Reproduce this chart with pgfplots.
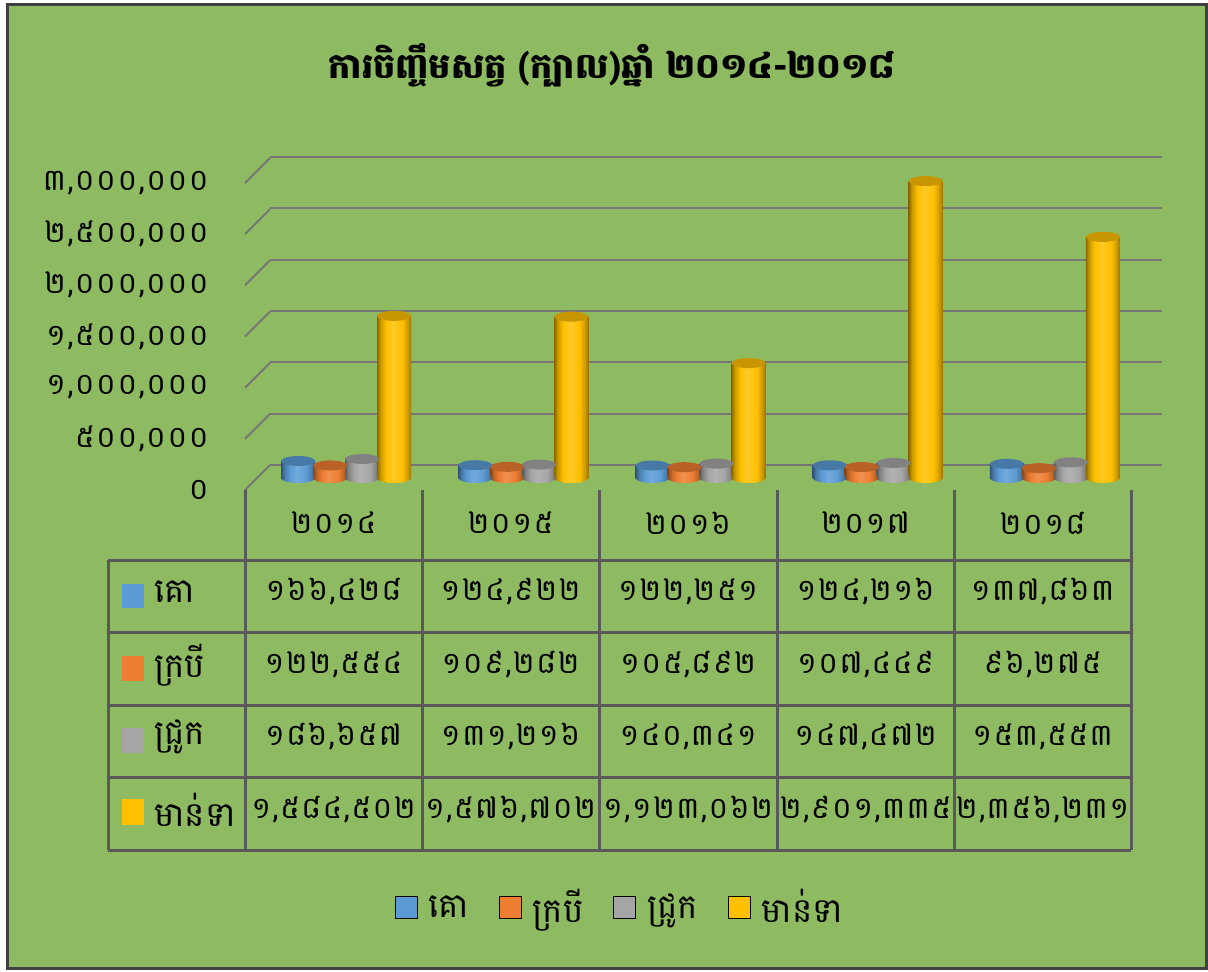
\documentclass[border=0pt]{standalone}
\usepackage{fontspec}
\setmainfont[Script=Khmer]{Battambang}
\newfontfamily\numfont[Script=Khmer, LetterSpace=5]{Battambang}
\usepackage{pgfplots}
\pgfplotsset{compat=1.18}
\usepackage{pgfplotstable}
\usetikzlibrary{shapes.geometric}

\definecolor{bg}{RGB}{142,187,98}
\definecolor{frame}{RGB}{64,64,64}
\definecolor{gridc}{RGB}{118,118,118}
\definecolor{tline}{RGB}{89,89,89}
\definecolor{cB}{HTML}{5B9BD5}
\definecolor{cO}{HTML}{ED7D31}
\definecolor{cG}{HTML}{A5A5A5}
\definecolor{cY}{HTML}{FFC000}

\newcommand\cylshade[2]{\pgfdeclarehorizontalshading{#1}{100bp}{color(0bp)=(#2!55!black); color(25bp)=(#2!55!black); color(30bp)=(#2!80!black); color(38bp)=(#2); color(48bp)=(#2!85!white); color(62bp)=(#2); color(70bp)=(#2!80!black); color(75bp)=(#2!60!black); color(100bp)=(#2!60!black)}}
\cylshade{cylB}{cB}
\cylshade{cylO}{cO}
\cylshade{cylG}{cG}
\cylshade{cylY}{cY}

\pgfplotstableread{
x cow buffalo pig poultry
0 166428 122554 186657 1584502
1 124922 109282 131216 1576702
2 122251 105892 140341 1123062
3 124216 107499 147472 2901335
4 137863 96275 153553 2356231
}\data

\pgfplotsset{
  cap/.style n args={2}{bar shift=#2, draw=none, fill=none, forget plot, nodes near coords={},
    every node near coord/.style={ellipse, anchor=center, xshift=#2, minimum width=17pt,
      minimum height=5pt, inner sep=0pt, #1}},
}

\newcommand\cylinder[4]{% column, shift, shading, colour
  \addplot[cap={shading=#3}{#2}] coordinates {(0,0)(1,0)(2,0)(3,0)(4,0)};
  \pgfplotsinvokeforeach{0,1,2,3,4}{%
    \addplot[bar shift=#2, draw=none, shading=#3, forget plot, restrict x to domain=##1:##1] table[x=x,y=#1]{\data};
  }
  \addplot[cap={fill=#4!78!black}{#2}] table[x=x,y=#1]{\data};
}

\begin{document}
\begin{tikzpicture}[x=0.5pt,y=-0.5pt]
\fill[white] (0,0) rectangle (1208,972);
\draw[frame, line width=1.5pt, fill=bg] (7.5,5) rectangle (1206,968.5);

% back plane gridlines
\begin{axis}[at={(135pt,-232.5pt)}, anchor=south west, scale only axis,
  width=446pt, height=154pt, xmin=-0.5, xmax=4.5, ymin=0, ymax=3000000,
  axis line style={draw=none}, xtick=\empty, scaled y ticks=false,
  ytick={0,500000,1000000,1500000,2000000,2500000,3000000}, yticklabels={},
  major tick length=0pt, ymajorgrids, major grid style={gridc, line width=1pt}]
\end{axis}

% front plane: tick labels and diagonals
\begin{axis}[at={(122.5pt,-245pt)}, anchor=south west, scale only axis,
  width=443pt, height=153.5pt, xmin=-0.5, xmax=4.5, ymin=0, ymax=3000000,
  axis line style={draw=none}, xtick=\empty, scaled y ticks=false, clip=false,
  ytick={0,500000,1000000,1500000,2000000,2500000,3000000},
  yticklabels={០,{៥០០,០០០},{១,០០០,០០០},{១,៥០០,០០០},{២,០០០,០០០},{២,៥០០,០០០},{៣,០០០,០០០}},
  major tick length=0pt,
  yticklabel style={anchor=east, inner sep=0pt, xshift=-18pt, font=\numfont\fontsize{15}{17}\selectfont}]
\pgfplotsinvokeforeach{0,500000,1000000,1500000,2000000,2500000,3000000}{
  \draw[gridc, line width=1pt] (axis cs:-0.5,#1) -- ++(12.5pt,12.5pt);
}
\end{axis}

% mid plane: cylinders
\begin{axis}[at={(128.75pt,-239pt)}, anchor=south west, scale only axis,
  width=443pt, height=153.5pt, xmin=-0.5, xmax=4.5, ymin=0, ymax=3000000,
  hide axis, clip=false, ybar, bar width=17pt,
  legend image code/.code={\fill[#1] (0pt,-5.5pt) rectangle (11pt,5.5pt);},
  legend style={at={(0.41,-1.40)}, anchor=center, draw=none, fill=none,
    legend columns=4, font=\fontsize{17}{19}\selectfont,
    /tikz/every odd column/.append style={column sep=3.5pt},
    /tikz/every even column/.append style={column sep=13pt}}]
\cylinder{cow}{-24pt}{cylB}{cB}
\cylinder{buffalo}{-8pt}{cylO}{cO}
\cylinder{pig}{8pt}{cylG}{cG}
\cylinder{poultry}{24pt}{cylY}{cY}

\addlegendimage{fill=cB}\addlegendentry{គោ}
\addlegendimage{fill=cO}\addlegendentry{ក្របី}
\addlegendimage{fill=cG}\addlegendentry{ជ្រូក}
\addlegendimage{fill=cY}\addlegendentry{មាន់ទា}
\end{axis}

% title
\node[font=\bfseries\fontsize{17.5}{20}\selectfont] at (612,65) {ការចិញ្ចឹមសត្វ (ក្បាល)ឆ្នាំ ២០១៤-២០១៨};

% data table
\foreach \xx in {245,422,599,777,954,1131} \draw[tline, line width=1.5pt] (\xx,490) -- (\xx,850);
\draw[tline, line width=1.5pt] (108,560) -- (108,850);
\foreach \yy in {560,632,705,777,850} \draw[tline, line width=1.5pt] (108,\yy) -- (1131,\yy);

\begin{scope}[every node/.style={font=\numfont\fontsize{15}{17}\selectfont, inner sep=0pt}]
\node at (333.5,523) {២០១៤};
\node at (510.5,523) {២០១៥};
\node at (688,523) {២០១៦};
\node at (865.5,523) {២០១៧};
\node at (1042.5,523) {២០១៨};

\node at (333.5,592) {១៦៦,៤២៨};
\node at (510.5,592) {១២៤,៩២២};
\node at (688,592) {១២២,២៥១};
\node at (865.5,592) {១២៤,២១៦};
\node at (1042.5,592) {១៣៧,៨៦៣};

\node at (333.5,665) {១២២,៥៥៤};
\node at (510.5,665) {១០៩,២៨២};
\node at (688,665) {១០៥,៨៩២};
\node at (865.5,665) {១០៧,៤៤៩};
\node at (1042.5,665) {៩៦,២៧៥};

\node at (333.5,737) {១៨៦,៦៥៧};
\node at (510.5,737) {១៣១,២១៦};
\node at (688,737) {១៤០,៣៤១};
\node at (865.5,737) {១៤៧,៤៧២};
\node at (1042.5,737) {១៥៣,៥៥៣};

\node at (333.5,810) {១,៥៨៤,៥០២};
\node at (510.5,810) {១,៥៧៦,៧០២};
\node at (688,810) {១,១២៣,០៦២};
\node at (865.5,810) {២,៩០១,៣៣៥};
\node at (1042.5,810) {២,៣៥៦,២៣១};
\end{scope}

\begin{scope}[every node/.style={font=\fontsize{17}{19}\selectfont, inner sep=0pt}]
\fill[cB] (122,584) rectangle (144,608);
\fill[cO] (122,656) rectangle (144,681);
\fill[cG] (122,728) rectangle (144,753);
\fill[cY] (122,799) rectangle (144,825);
\node[anchor=west] at (154,592) {គោ};
\node[anchor=west] at (154,665) {ក្របី};
\node[anchor=west] at (154,737) {ជ្រូក};
\node[anchor=west] at (154,810) {មាន់ទា};
\end{scope}
\end{tikzpicture}
\end{document}
